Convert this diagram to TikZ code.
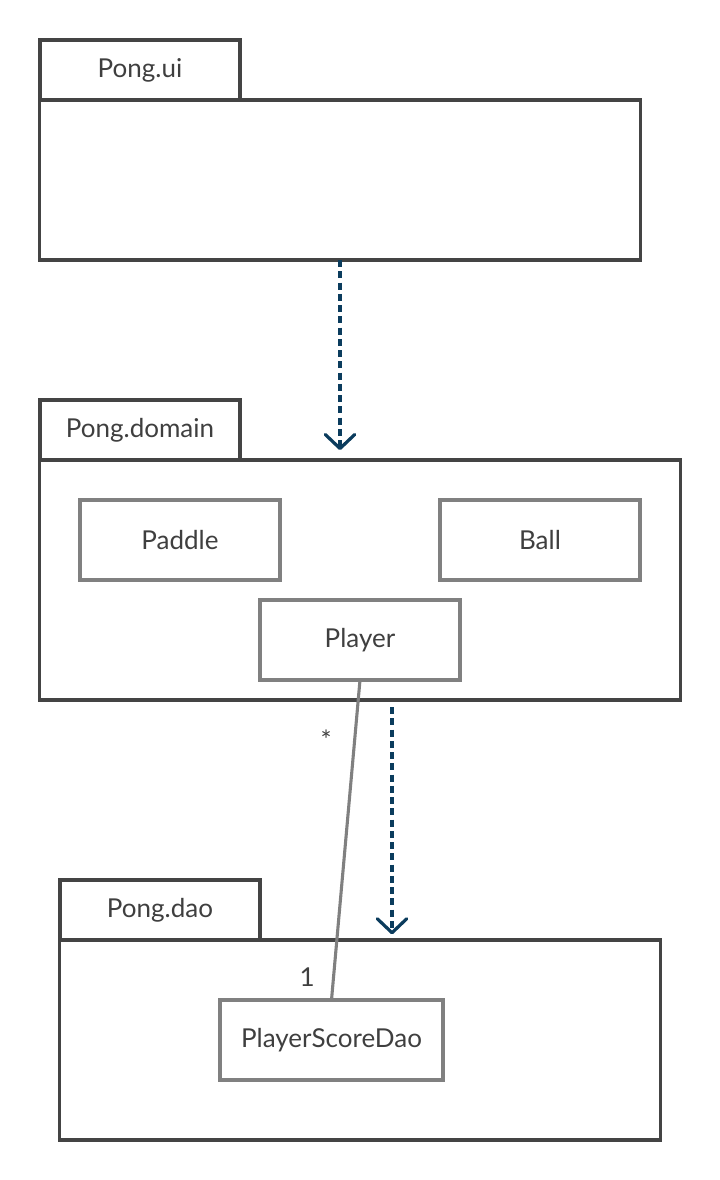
\documentclass[tikz,border=0pt]{standalone}
\usepackage{fontspec}
\setmainfont{Lato}
\usepackage{tikz}
\usetikzlibrary{arrows.meta}
\definecolor{pkggray}{HTML}{444444}
\definecolor{clsgray}{HTML}{808080}
\definecolor{txtgray}{HTML}{3F3F3F}
\definecolor{depblue}{HTML}{0B3C5D}

\begin{document}
\begin{tikzpicture}[x=0.025cm,y=-0.025cm,
        pkg/.style={draw=pkggray,line width=2.2pt,inner sep=0pt,outer sep=0pt,
            minimum width=#1,minimum height=4cm,text=txtgray},
        tab/.style={draw=pkggray,line width=2.2pt,inner sep=0pt,outer sep=0pt,
            minimum width=5cm,minimum height=1.5cm,text=txtgray},
        cls/.style={draw=clsgray,line width=2.2pt,inner sep=0pt,outer sep=0pt,
            minimum width=#1,minimum height=2cm,text=txtgray},
        depend/.style={depblue,line width=2.2pt,dash pattern=on 5pt off 3pt,
            -{Straight Barb[length=10pt,width=21pt,line width=2.3pt,round]}},
        assoc/.style={clsgray,line width=2.2pt},
        font=\fontsize{18.5pt}{22pt}\selectfont]
        \useasboundingbox (0,0) rectangle (720,1180);

        % package Pong.ui
        \node[tab] (uitab) at (140,70) {Pong.ui};
        \node[pkg=15cm] (ui) at (340,180) {};

        % package Pong.domain
        \node[tab] (domaintab) at (140,430) {Pong.domain};
        \node[pkg=16cm,minimum height=6cm] (domain) at (360,580) {};
        \node[cls=5cm] (paddle) at (180,540) {Paddle};
        \node[cls=5cm] (ball) at (540,540) {Ball};
        \node[cls=5cm] (player) at (360,640) {Player};

        % package Pong.dao
        \node[tab] (daotab) at (160,910) {Pong.dao};
        \node[pkg=15cm,minimum height=5cm] (dao) at (360,1040) {};
        \node[cls=5.575cm] (scoredao) at (331.5,1040) {PlayerScoreDao};

        % dependencies between packages
        \draw[depend,shorten >=7pt] (ui.south) -- (ui.south |- domain.north);
        \draw[depend,shorten <=5pt,shorten >=4pt]
            ([xshift=0.8cm]domain.south) -- ([xshift=0.8cm]domain.south |- dao.north);

        % association Player - PlayerScoreDao
        \draw[assoc] (player.south) -- (scoredao.north)
            node[pos=0.185,left=12pt,text=txtgray] {*}
            node[pos=0.93,left=9pt,text=txtgray] {1};
\end{tikzpicture}
\end{document}
